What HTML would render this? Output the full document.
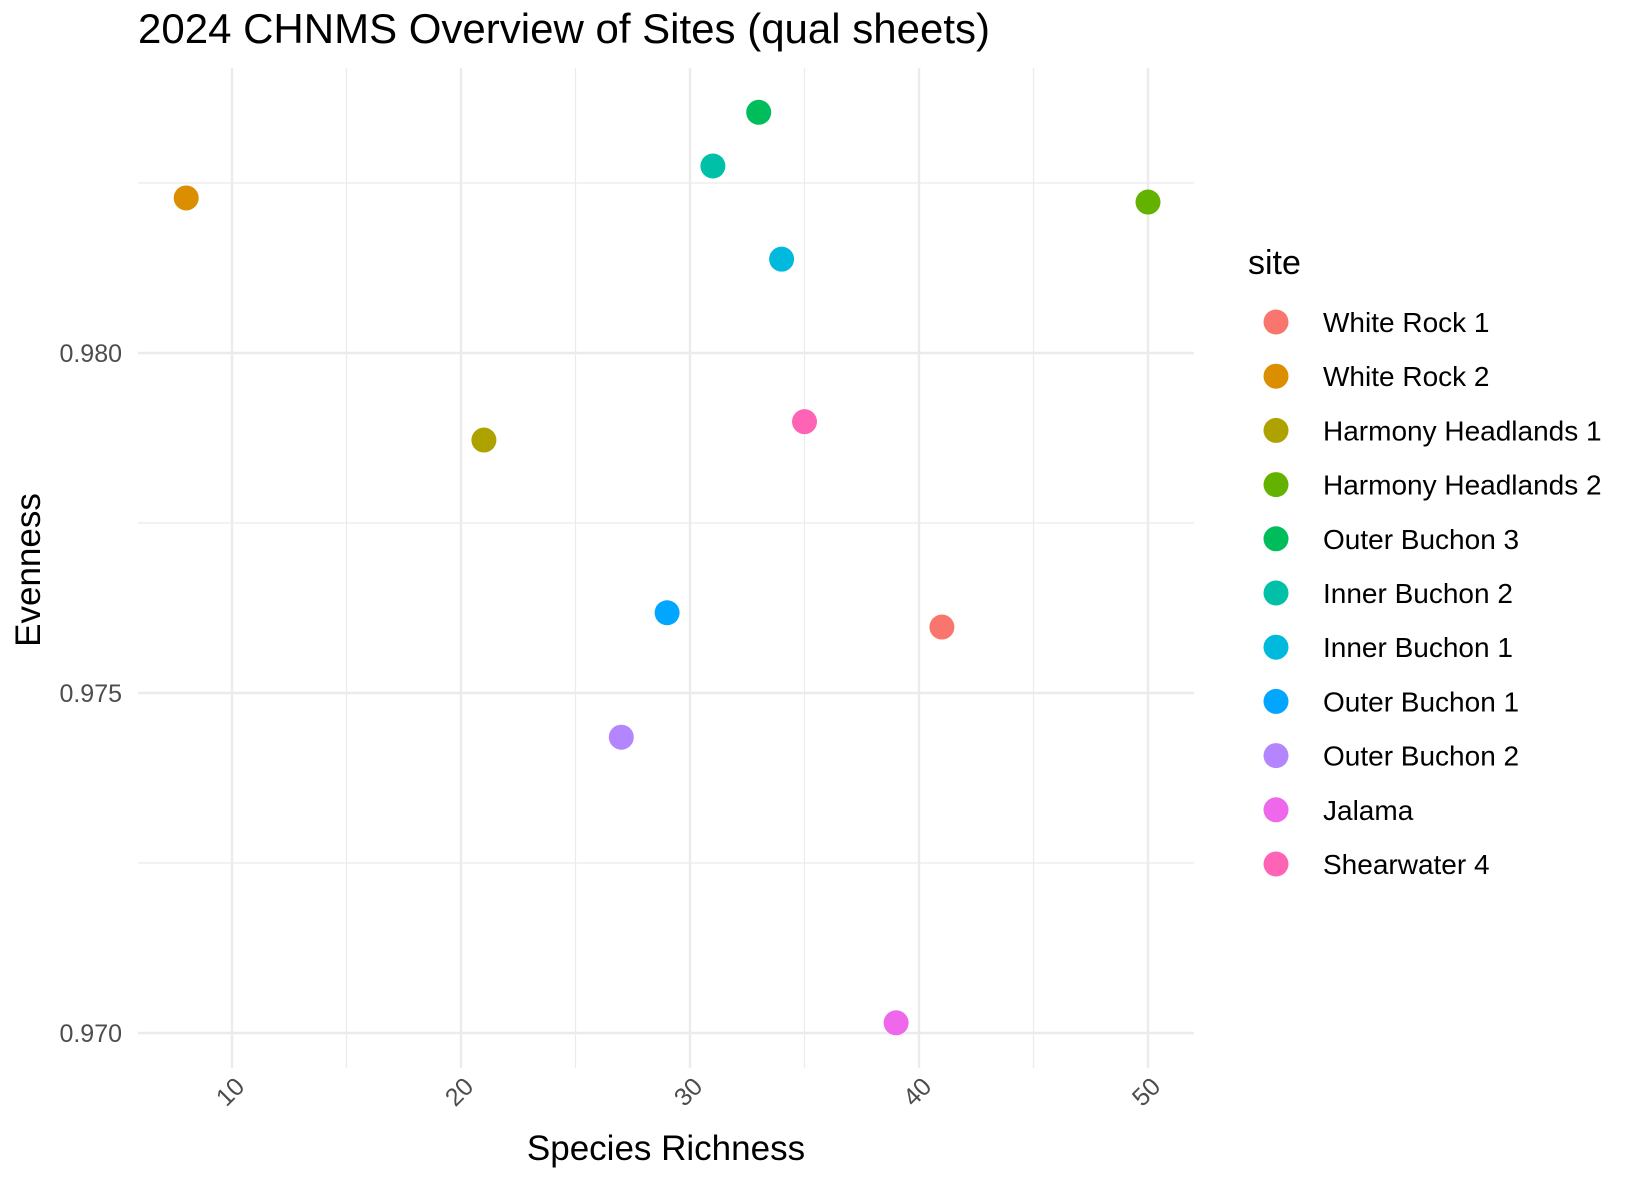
<!DOCTYPE html>
<html><head><meta charset="utf-8"><style>
html,body{margin:0;padding:0;background:#fff;}
svg{display:block;font-family:"Liberation Sans",Arial,sans-serif;}
</style></head><body>
<svg id="chart" width="1630" height="1178" viewBox="0 0 1630 1178">
<text x="138" y="43" font-size="42" fill="#000">2024 CHNMS Overview of Sites (qual sheets)</text>
<g id="grid"></g>
<g id="ticks"></g>
<g id="points"></g>
<text x="666" y="1160" font-size="35" text-anchor="middle" fill="#000">Species Richness</text>
<text transform="translate(40,570) rotate(-90)" font-size="35" text-anchor="middle" fill="#000">Evenness</text>
<text x="1248" y="274" font-size="34" fill="#000">site</text>
<g id="legend"></g>
</svg>
<script>
const sites = ["White Rock 1","White Rock 2","Harmony Headlands 1","Harmony Headlands 2","Outer Buchon 3","Inner Buchon 2","Inner Buchon 1","Outer Buchon 1","Outer Buchon 2","Jalama","Shearwater 4"];
const richness = [41,8,21,50,33,31,34,29,27,39,35];
const evenness = [0.97597,0.98228,0.97872,0.98222,0.98354,0.98275,0.98138,0.97618,0.97435,0.97015,0.97899];
const colors = ["#F8766D","#DB8E00","#AEA200","#64B200","#00BD5C","#00C1A7","#00BADE","#00A6FF","#B385FF","#EF67EB","#FF63B6"];
const xTicks = [10,20,30,40,50];
const xMinor = [15,25,35,45];
const yTicks = [0.970,0.975,0.980];
const yMinor = [0.9725,0.9775,0.9825];

const NS="http://www.w3.org/2000/svg";
const L=138,R=1194,T=68,B=1068;
function xs(v){return 232+(v-10)*22.9;}
function ys(v){return 353+(0.980-v)*68000;}
function mk(tag,attrs,parent){const e=document.createElementNS(NS,tag);for(const k in attrs)e.setAttribute(k,attrs[k]);parent.appendChild(e);return e;}
const grid=document.getElementById('grid'),ticks=document.getElementById('ticks'),pts=document.getElementById('points'),leg=document.getElementById('legend');
yMinor.forEach(v=>{const e=mk('line',{x1:L,x2:R,y1:ys(v),y2:ys(v),stroke:'#ebebeb','stroke-width':1.2},grid);

});
xMinor.forEach(v=>{const e=mk('line',{x1:xs(v),x2:xs(v),y1:T,y2:B,stroke:'#ebebeb','stroke-width':1.2},grid);

});
yTicks.forEach(v=>{const e=mk('line',{x1:L,x2:R,y1:ys(v),y2:ys(v),stroke:'#ebebeb','stroke-width':2.4},grid);


const t=mk('text',{x:122,y:ys(v)+9,'font-size':25,'text-anchor':'end',fill:'#4d4d4d'},ticks);t.textContent=v.toFixed(3);

});
xTicks.forEach(v=>{const e=mk('line',{x1:xs(v),x2:xs(v),y1:T,y2:B,stroke:'#ebebeb','stroke-width':2.4},grid);


const t=mk('text',{transform:`translate(${xs(v)+14},${1088}) rotate(-45)`,'font-size':25,'text-anchor':'end',fill:'#4d4d4d'},ticks);t.textContent=v;

});
richness.forEach((r,i)=>{const c=mk('circle',{cx:xs(r),cy:ys(evenness[i]),r:12.5,fill:colors[i]},pts);

});
sites.forEach((s,i)=>{const y=322+54.2*i;
const c=mk('circle',{cx:1276,cy:y,r:12.5,fill:colors[i]},leg);


const t=mk('text',{x:1323,y:y+10,'font-size':28,fill:'#000'},leg);t.textContent=s;

});
</script>
</body></html>
